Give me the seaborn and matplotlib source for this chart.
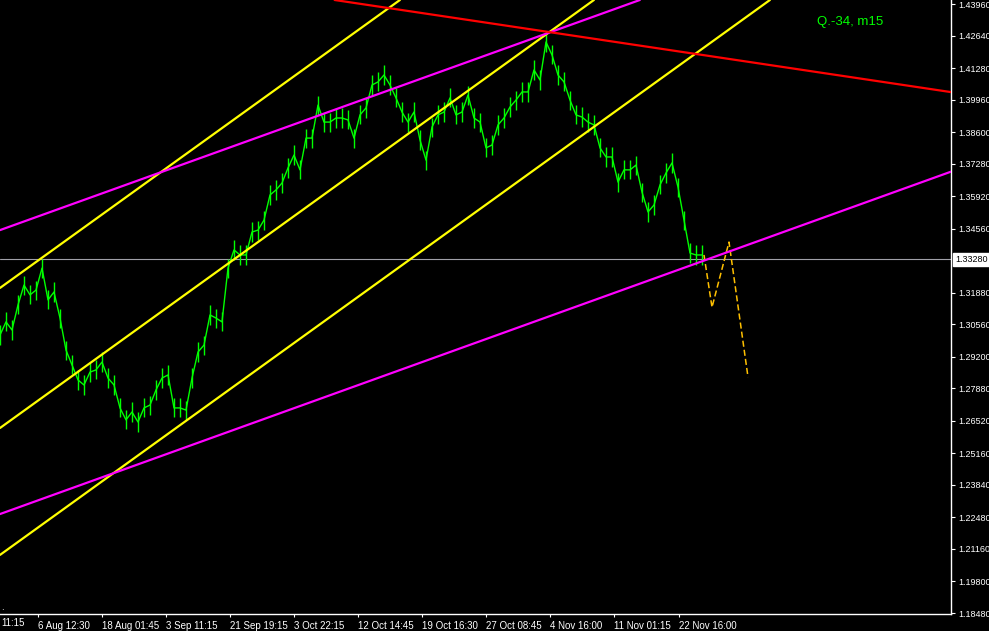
import numpy as np
import pandas as pd
import matplotlib
matplotlib.use("Agg")
import matplotlib.pyplot as plt
import seaborn as sns

# ---------------- data ----------------
close_prices = [
    1.3011, 1.3066, 1.3032, 1.3137, 1.3220, 1.3179, 1.3199, 1.3291, 1.3158, 1.3191,
    1.3082, 1.2948, 1.2886, 1.2823, 1.2802, 1.2856, 1.2865, 1.2898, 1.2831, 1.2802,
    1.2706, 1.2656, 1.2689, 1.2647, 1.2706, 1.2718, 1.2781, 1.2831, 1.2844, 1.2706,
    1.2706, 1.2697, 1.2831, 1.2940, 1.2969, 1.3095, 1.3082, 1.3066, 1.3291, 1.3367,
    1.3346, 1.3346, 1.3442, 1.3450, 1.3492, 1.3597, 1.3618, 1.3647, 1.3710, 1.3764,
    1.3702, 1.3835, 1.3835, 1.3973, 1.3902, 1.3902, 1.3919, 1.3919, 1.3911, 1.3835,
    1.3932, 1.3961, 1.4057, 1.4070, 1.4099, 1.4057, 1.4003, 1.3944, 1.3902, 1.3944,
    1.3827, 1.3743, 1.3881, 1.3932, 1.3944, 1.4003, 1.3932, 1.3944, 1.4015, 1.3919,
    1.3902, 1.3794, 1.3806, 1.3890, 1.3919, 1.3965, 1.3994, 1.4028, 1.4028, 1.4120,
    1.4078, 1.4237, 1.4183, 1.4099, 1.4070, 1.3994, 1.3932, 1.3923, 1.3902, 1.3890,
    1.3794, 1.3756, 1.3756, 1.3651, 1.3702, 1.3702, 1.3722, 1.3609, 1.3526, 1.3555,
    1.3639, 1.3689, 1.3731, 1.3630, 1.3492, 1.3354, 1.3346, 1.3346,
]
bars_per_point = 3          # stored closes are every 3rd bar
box_half = 0.0040           # half range of each bar

proj_bars = [352, 356, 364.5, 374]
proj_prices = [1.3346, 1.3127, 1.3400, 1.2835]

yellow_lines = [((0, 1.3208), (200, 1.4413)),
                ((0, 1.2622), (297, 1.4413)),
                ((0, 1.2091), (385, 1.4413))]
magenta_lines = [((0, 1.3450), (320, 1.4413)),
                 ((0, 1.2262), (475, 1.3693))]
red_line = ((177.5, 1.4400), (475, 1.4028))

current_price = 1.3328
current_label = "1.33280"

ytick_labels = ["1.43960", "1.42640", "1.41280", "1.39960", "1.38600", "1.37280",
                "1.35920", "1.34560", "1.31880", "1.30560", "1.29200", "1.27880",
                "1.26520", "1.25160", "1.23840", "1.22480", "1.21160", "1.19800",
                "1.18480"]
xtick_bars = [19, 51, 83, 115, 147, 179, 211, 243, 275, 307, 339.5]
xtick_labels = ["6 Aug 12:30", "18 Aug 01:45", "3 Sep 11:15", "21 Sep 19:15",
                "3 Oct 22:15", "12 Oct 14:45", "19 Oct 16:30", "27 Oct 08:45",
                "4 Nov 16:00", "11 Nov 01:15", "22 Nov 16:00"]
first_partial_label = "11:15"
title_text = "Q.-34, m15"

# ---------------- figure ----------------
sns.set_style("dark", {"axes.facecolor": "black", "figure.facecolor": "black"})
plt.rcParams["font.family"] = ["Liberation Sans", "DejaVu Sans"]

W, H = 989, 631
fig = plt.figure(figsize=(W / 100, H / 100), dpi=100, facecolor="black")
ax = fig.add_axes([0, 17 / H, 951 / W, 1 - 17 / H])
ax.set_facecolor("black")

ppx = 0.2548 / 609
ax.set_ylim(1.1848 - 1 * ppx, 1.4396 + 4 * ppx)
ax.set_xlim(0, 951 / 2)

df = pd.DataFrame({"bar": np.arange(len(close_prices)) * bars_per_point,
                   "close": close_prices})
df["low"] = df["close"] - box_half
df["high"] = df["close"] + box_half

# current price line
ax.axhline(current_price, color="#A0A0A8", lw=0.8, zorder=1)

# price bars
ax.vlines(df["bar"], df["low"], df["high"], color="#00FF00", lw=1.0, zorder=2)
sns.lineplot(data=df, x="bar", y="close", ax=ax, color="#00FF00", lw=1.0,
             zorder=2, legend=False)

# projection
proj = pd.DataFrame({"bar": proj_bars, "price": proj_prices})
sns.lineplot(data=proj, x="bar", y="price", ax=ax, color="#FFC000", lw=1.1,
             zorder=3, legend=False)
ax.lines[-1].set_dashes([4, 2])

# trend lines
for p1, p2 in yellow_lines:
    ax.axline(p1, p2, color="#FFFF00", lw=1.6, zorder=4)
for p1, p2 in magenta_lines:
    ax.axline(p1, p2, color="#FF00FF", lw=1.6, zorder=4)
ax.axline(red_line[0], red_line[1], color="#FF0000", lw=1.6, zorder=4)

# axes styling
for s in ["top", "left"]:
    ax.spines[s].set_visible(False)
for s in ["right", "bottom"]:
    ax.spines[s].set_visible(True)
    ax.spines[s].set_color("white")
    ax.spines[s].set_linewidth(1.0)
ax.grid(False)

ax.yaxis.tick_right()
ax.set_yticks([float(t) for t in ytick_labels])
ax.set_yticklabels(ytick_labels)
ax.tick_params(axis="y", direction="out", length=3, width=0.8, colors="white",
               labelsize=6.5, pad=2, right=True, left=False)

ax.set_xticks(xtick_bars)
ax.set_xticklabels(xtick_labels, ha="left")
ax.tick_params(axis="x", direction="out", length=2.5, width=0.8, colors="white",
               labelsize=7.0, pad=2.5, bottom=True)
for lab in ax.get_xticklabels():
    lab.set_horizontalalignment("left")
ax.set_xlabel("")
ax.set_ylabel("")

# first, cut-off time label
fig.text(1 / W, 1 - 623.5 / H, first_partial_label, color="white", fontsize=7.0,
         ha="left", va="center")

# current price label box
ax.annotate(current_label, xy=(1.0, current_price), xycoords=("axes fraction", "data"),
            xytext=(4, 0), textcoords="offset pixels", ha="left", va="center",
            fontsize=6.5, color="black",
            bbox=dict(boxstyle="square,pad=0.2", fc="white", ec="white"))

# chart caption
fig.text(817 / W, 1 - 22.5 / H, title_text, color="#00FF00", fontsize=9.5,
         ha="left", va="center")

# small marker dot bottom-left
fig.text(1 / W, 1 - 607 / H, ".", color="white", fontsize=7, ha="left", va="center")

fig.savefig("out.png", dpi=100, facecolor="black")
